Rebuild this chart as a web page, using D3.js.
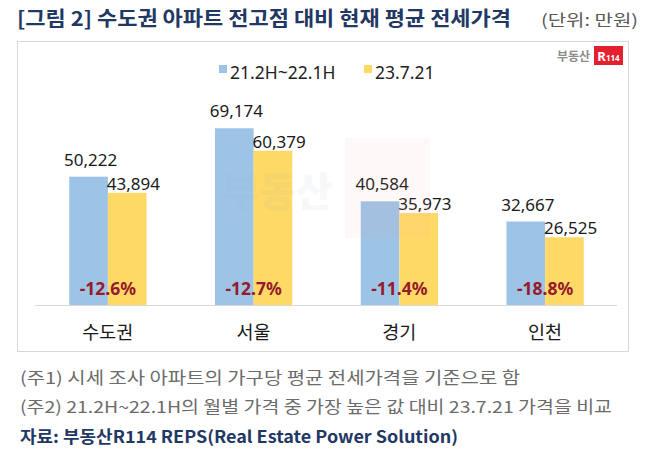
<!DOCTYPE html>
<html><head><meta charset="utf-8">
<script src="https://cdn.jsdelivr.net/npm/d3@7"></script>
<style>
body{margin:0;background:#fff;}
svg{display:block;}
</style></head>
<body>
<svg id="c" width="647" height="450"></svg>
<script>
const categories = ["수도권", "서울", "경기", "인천"];
const seriesNames = ["21.2H~22.1H", "23.7.21"];
const peakValues = [50222, 69174, 40584, 32667];
const currentValues = [43894, 60379, 35973, 26525];
const changeLabels = ["-12.6%", "-12.7%", "-11.4%", "-18.8%"];
const colors = ["#9dc3e6", "#ffd966"];

const KR = "'Noto Sans CJK KR','Noto Sans',sans-serif";
const NUM = "'Noto Sans','Noto Sans CJK KR',sans-serif";
const svg = d3.select("#c");

// title
svg.append("text").attr("x",17).attr("y",26)
  .attr("font-family",KR).attr("font-weight",700).attr("font-size",20)
  .attr("fill","#1f3864").attr("textLength",494).attr("lengthAdjust","spacingAndGlyphs")
  .text("[그림 2] 수도권 아파트 전고점 대비 현재 평균 전세가격");
svg.append("text").attr("x",638).attr("y",26).attr("text-anchor","end")
  .attr("font-family",KR).attr("font-size",16).attr("fill","#595959")
  .attr("textLength",97).attr("lengthAdjust","spacingAndGlyphs")
  .text("(단위: 만원)");

// frame
svg.append("rect").attr("x",17.5).attr("y",41.5).attr("width",611).attr("height",310)
  .attr("fill","#fff").attr("stroke","#d9d9d9").attr("stroke-width",1);

// logo
svg.append("text").attr("x",590).attr("y",60.5).attr("text-anchor","end")
  .attr("font-family",KR).attr("font-weight",700).attr("font-size",12).attr("fill","#8c8c8c")
  .text("부동산");
svg.append("rect").attr("x",594).attr("y",46).attr("width",29).attr("height",19).attr("fill","#e5202e");
const lg = svg.append("text").attr("x",608.5).attr("y",61).attr("text-anchor","middle")
  .attr("font-family",NUM).attr("font-weight",700).attr("fill","#fff");
lg.append("tspan").attr("font-size",13).text("R");
lg.append("tspan").attr("font-size",8).text("114");

// scales
const y = d3.scaleLinear().domain([0, 80000]).range([305, 100.6]);
const x0 = d3.scaleBand().domain(categories).range([35, 618]).paddingInner(0.47).paddingOuter(0.235);
const x1 = d3.scaleBand().domain(seriesNames).range([0, x0.bandwidth()]);

const data = categories.map((c,i)=>({cat:c, vals:[peakValues[i], currentValues[i]], chg:changeLabels[i]}));

// legend
const legend = svg.append("g");
const legX = [219, 364];
seriesNames.forEach((s,i)=>{
  legend.append("rect").attr("x",legX[i]).attr("y",65).attr("width",8).attr("height",8).attr("fill",colors[i]);
  legend.append("text").attr("x",legX[i]+11).attr("y",78.5)
    .attr("font-family",NUM).attr("font-size",17.5).attr("fill","#222").text(s);
});

// bars
const g = svg.append("g");
const groups = g.selectAll("g.grp").data(data).join("g").attr("class","grp")
  .attr("transform",d=>`translate(${x0(d.cat)},0)`);
groups.selectAll("rect").data(d=>d.vals.map((v,j)=>({v, s:seriesNames[j], j})))
  .join("rect")
  .attr("x",d=>x1(d.s)).attr("width",x1.bandwidth())
  .attr("y",d=>y(d.v)).attr("height",d=>y(0)-y(d.v))
  .attr("fill",d=>colors[d.j]);

// watermark
svg.append("text").attr("x",222).attr("y",206)
  .attr("font-family",KR).attr("font-weight",900).attr("font-size",40)
  .attr("fill","#8ea9c8").attr("opacity",0.07).text("부동산");
svg.append("rect").attr("x",345).attr("y",138).attr("width",85).attr("height",100)
  .attr("fill","#f4a0a8").attr("opacity",0.08);

// axis line
svg.append("line").attr("x1",35).attr("x2",617).attr("y1",305.5).attr("y2",305.5)
  .attr("stroke","#d9d9d9").attr("stroke-width",1.2);

// value labels
groups.append("text").attr("x",x1(seriesNames[0])+x1.bandwidth()/2+2)
  .attr("y",d=>y(d.vals[0])-11).attr("text-anchor","middle")
  .attr("font-family",NUM).attr("font-size",17).attr("fill","#1a1a1a")
  .text(d=>d3.format(",")(d.vals[0]));
groups.append("text").attr("x",x1(seriesNames[1])-1)
  .attr("y",d=>y(d.vals[1])-3).attr("text-anchor","start")
  .attr("font-family",NUM).attr("font-size",17).attr("fill","#1a1a1a")
  .text(d=>d3.format(",")(d.vals[1]));

// change labels
groups.append("text").attr("x",x0.bandwidth()/2).attr("y",295)
  .attr("text-anchor","middle").attr("font-family",NUM).attr("font-weight",700)
  .attr("font-size",17.5).attr("fill","#961a2b").text(d=>d.chg);

// category labels
groups.append("text").attr("x",x0.bandwidth()/2).attr("y",339)
  .attr("text-anchor","middle").attr("font-family",KR).attr("font-size",18.5)
  .attr("fill","#1a1a1a").text(d=>d.cat);

// notes
svg.append("text").attr("x",20).attr("y",384).attr("font-family",KR).attr("font-size",16.5)
  .attr("fill","#6b6b6b").attr("textLength",500).attr("lengthAdjust","spacingAndGlyphs")
  .text("(주1) 시세 조사 아파트의 가구당 평균 전세가격을 기준으로 함");
svg.append("text").attr("x",20).attr("y",413).attr("font-family",KR).attr("font-size",16.5)
  .attr("fill","#6b6b6b").attr("textLength",592).attr("lengthAdjust","spacingAndGlyphs")
  .text("(주2) 21.2H~22.1H의 월별 가격 중 가장 높은 값 대비 23.7.21 가격을 비교");
svg.append("text").attr("x",20).attr("y",443).attr("font-family",KR).attr("font-weight",700).attr("font-size",16.5)
  .attr("fill","#1f3864").attr("textLength",438).attr("lengthAdjust","spacingAndGlyphs")
  .text("자료: 부동산R114 REPS(Real Estate Power Solution)");
</script>
</body></html>
